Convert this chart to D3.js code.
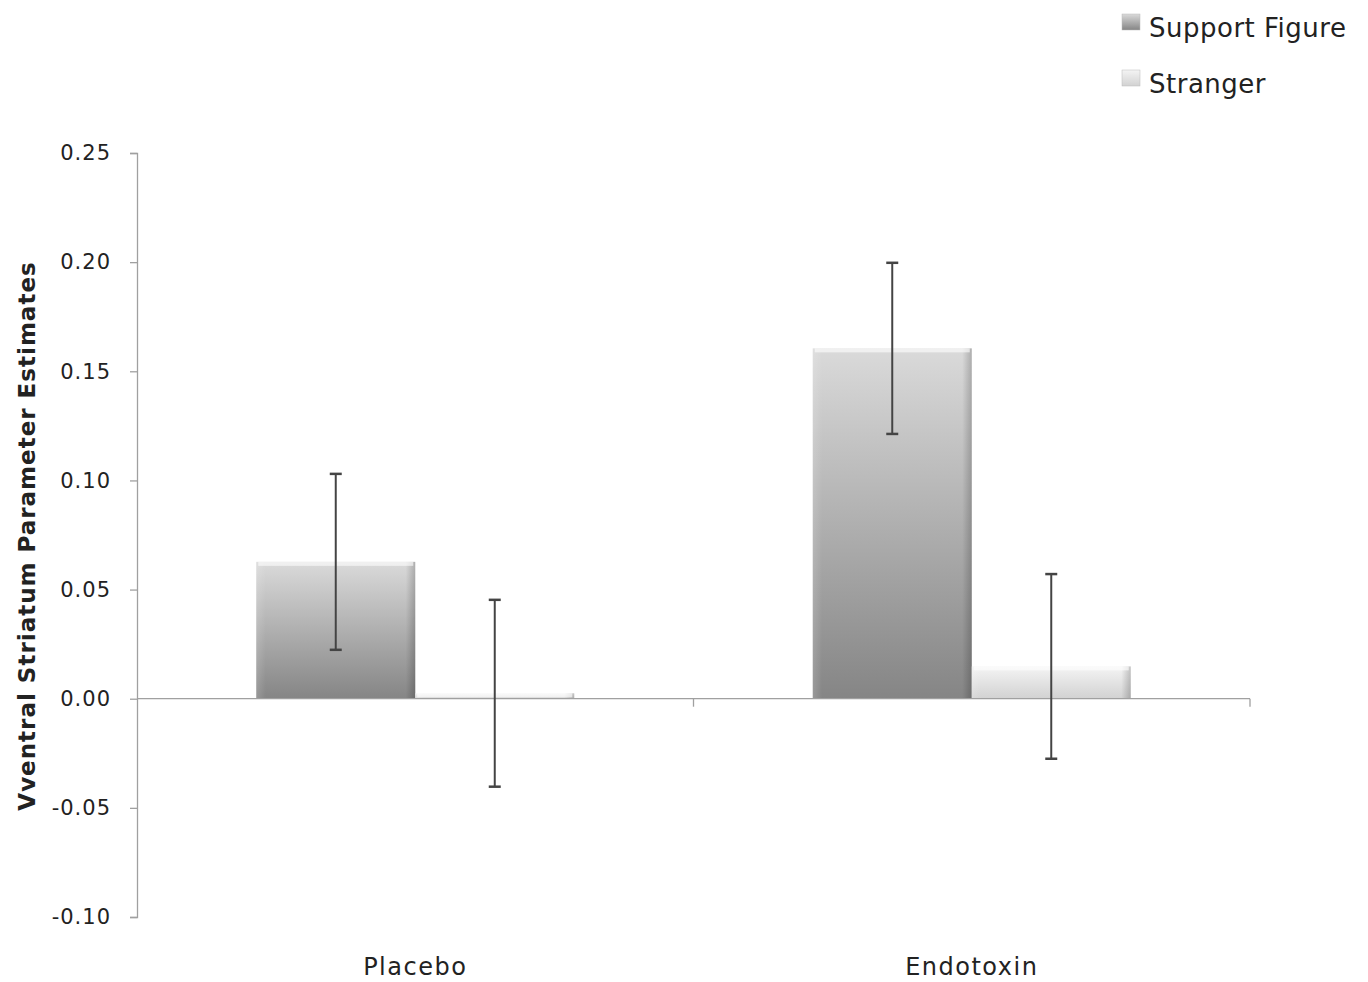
<!DOCTYPE html>
<html>
<head>
<meta charset="utf-8">
<script src="https://cdn.jsdelivr.net/npm/d3@7"></script>
<style>
  html, body { margin: 0; padding: 0; background: #fff; }
  svg { display: block; }
</style>
</head>
<body>
<svg id="chart" width="1368" height="982"></svg>
<script>
const categories = ["Placebo", "Endotoxin"];
const seriesNames = ["Support Figure", "Stranger"];
const supportValues = [0.0627, 0.1605];
const supportErrors = [0.0403, 0.0392];
const strangerValues = [0.0025, 0.0148];
const strangerErrors = [0.0428, 0.0423];
const yTicks = [-0.10, -0.05, 0.00, 0.05, 0.10, 0.15, 0.20, 0.25];

const svg = d3.select("#chart");
const margin = { left: 137, right: 118, top: 153, bottom: 64 };

const y = d3.scaleLinear().domain([-0.10, 0.25]).range([917, 153]);
const x0 = d3.scaleBand().domain(categories).range([137, 1250]).paddingInner(0).paddingOuter(0);
const x1 = d3.scaleBand().domain(seriesNames).range([0, x0.bandwidth()]).paddingInner(0).paddingOuter(0.75);

const defs = svg.append("defs");
function grad(id, top, bottom) {
  const g = defs.append("linearGradient").attr("id", id).attr("x1", 0).attr("y1", 0).attr("x2", 0).attr("y2", 1);
  g.append("stop").attr("offset", "0%").attr("stop-color", top);
  g.append("stop").attr("offset", "100%").attr("stop-color", bottom);
}
grad("gSupport", "#dadada", "#858585");
grad("gStranger", "#f4f4f4", "#d2d2d2");
const side = defs.append("linearGradient").attr("id", "gSide").attr("x1", 0).attr("y1", 0).attr("x2", 1).attr("y2", 0);
side.append("stop").attr("offset", "0%").attr("stop-color", "#fff").attr("stop-opacity", 0.15);
side.append("stop").attr("offset", "6%").attr("stop-color", "#fff").attr("stop-opacity", 0);
side.append("stop").attr("offset", "94%").attr("stop-color", "#000").attr("stop-opacity", 0);
side.append("stop").attr("offset", "100%").attr("stop-color", "#000").attr("stop-opacity", 0.2);
const fills = { "Support Figure": "url(#gSupport)", "Stranger": "url(#gStranger)" };

// Y axis
const fmt = d3.format(".2f");
const yAxis = d3.axisLeft(y).tickValues(yTicks)
  .tickFormat(d => fmt(d).replace("\u2212", "-"))
  .tickSize(7).tickPadding(19);
const yg = svg.append("g").attr("transform", `translate(${margin.left},0)`).call(yAxis);
yg.select(".domain").attr("stroke", "#a0a0a0").attr("stroke-width", 1.3);
yg.selectAll(".tick line").attr("stroke", "#a0a0a0").attr("stroke-width", 1.3);
yg.selectAll(".tick text").attr("font-family", "DejaVu Sans, sans-serif").attr("font-size", 21)
  .attr("letter-spacing", 1).attr("fill", "#222");

// Bars
const rows = categories.map((c, i) => [
  { cat: c, s: "Support Figure", v: supportValues[i], e: supportErrors[i] },
  { cat: c, s: "Stranger", v: strangerValues[i], e: strangerErrors[i] }
]).flat();

const bars = svg.append("g");
bars.selectAll("rect.bar").data(rows).enter().append("rect")
  .attr("class", "bar")
  .attr("x", d => x0(d.cat) + x1(d.s))
  .attr("y", d => y(Math.max(0, d.v)))
  .attr("width", x1.bandwidth())
  .attr("height", d => Math.abs(y(d.v) - y(0)))
  .attr("fill", d => fills[d.s]);
bars.selectAll("rect.side").data(rows).enter().append("rect")
  .attr("class", "side")
  .attr("x", d => x0(d.cat) + x1(d.s))
  .attr("y", d => y(Math.max(0, d.v)))
  .attr("width", x1.bandwidth())
  .attr("height", d => Math.abs(y(d.v) - y(0)))
  .attr("fill", "url(#gSide)");
bars.selectAll("rect.hl").data(rows).enter().append("rect")
  .attr("class", "hl")
  .attr("x", d => x0(d.cat) + x1(d.s) + 2)
  .attr("y", d => y(Math.max(0, d.v)))
  .attr("width", x1.bandwidth() - 4)
  .attr("height", d => Math.min(4, Math.abs(y(d.v) - y(0))))
  .attr("fill", "#fff").attr("opacity", 0.6);

// X axis (at zero)
const xAxisLine = svg.append("g");
xAxisLine.append("line").attr("x1", 137).attr("x2", 1250).attr("y1", y(0)).attr("y2", y(0))
  .attr("stroke", "#a0a0a0").attr("stroke-width", 1.3);
xAxisLine.selectAll("line.xt").data([x0.range()[0] + x0.bandwidth(), x0.range()[1]]).enter().append("line")
  .attr("class", "xt").attr("x1", d => d).attr("x2", d => d).attr("y1", y(0)).attr("y2", y(0) + 8)
  .attr("stroke", "#a0a0a0").attr("stroke-width", 1.3);

// Error bars
const eb = svg.append("g").attr("stroke", "#444").attr("stroke-width", 2);
const cx = d => x0(d.cat) + x1(d.s) + x1.bandwidth() / 2;
eb.selectAll("line.v").data(rows).enter().append("line")
  .attr("x1", cx).attr("x2", cx).attr("y1", d => y(d.v + d.e)).attr("y2", d => y(d.v - d.e));
eb.selectAll("line.t").data(rows).enter().append("line")
  .attr("x1", d => cx(d) - 6).attr("x2", d => cx(d) + 6).attr("y1", d => y(d.v + d.e)).attr("y2", d => y(d.v + d.e))
  .attr("stroke-width", 2.5);
eb.selectAll("line.b").data(rows).enter().append("line")
  .attr("x1", d => cx(d) - 6).attr("x2", d => cx(d) + 6).attr("y1", d => y(d.v - d.e)).attr("y2", d => y(d.v - d.e))
  .attr("stroke-width", 2.5);

// Category labels
svg.append("g").selectAll("text").data(categories).enter().append("text")
  .attr("x", d => x0(d) + x0.bandwidth() / 2)
  .attr("y", 975)
  .attr("text-anchor", "middle")
  .attr("font-family", "DejaVu Sans, sans-serif").attr("font-size", 24).attr("letter-spacing", 1.5).attr("fill", "#222")
  .text(d => d);

// Y label
svg.append("text")
  .attr("transform", `translate(35,536) rotate(-90)`)
  .attr("text-anchor", "middle")
  .attr("font-family", "DejaVu Sans, sans-serif").attr("font-size", 23).attr("letter-spacing", 1)
  .attr("font-weight", "bold").attr("fill", "#222")
  .text("Vventral Striatum Parameter Estimates");

// Legend
const lg = svg.append("g");
seriesNames.forEach((s, i) => {
  const yy = 22 + i * 56;
  lg.append("rect").attr("x", 1122).attr("y", yy - 8).attr("width", 18).attr("height", 16)
    .attr("fill", fills[s]).attr("stroke", "#bbb").attr("stroke-width", 0.5);
  lg.append("text").attr("x", 1149).attr("y", yy + 15)
    .attr("font-family", "DejaVu Sans, sans-serif").attr("font-size", 26).attr("letter-spacing", 0.5).attr("fill", "#222")
    .text(s);
});
</script>
</body>
</html>
